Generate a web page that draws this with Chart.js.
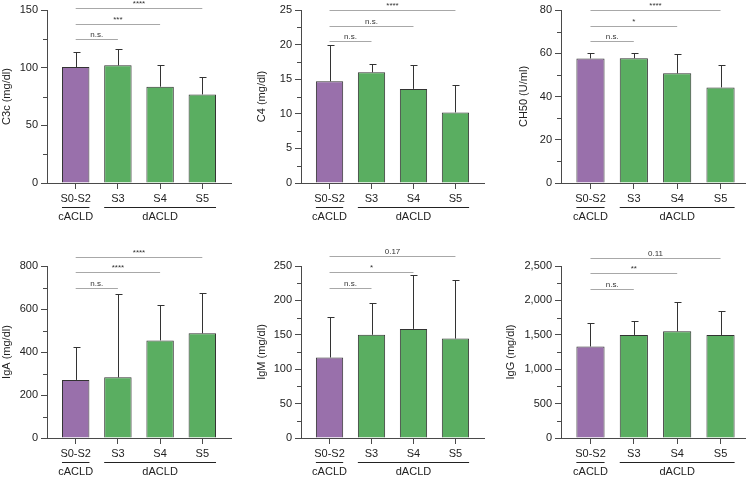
<!DOCTYPE html>
<html>
<head>
<meta charset="utf-8">
<script src="https://cdn.jsdelivr.net/npm/chart.js@4.4.1/dist/chart.umd.min.js"></script>
<style>
  html, body { margin: 0; padding: 0; background: #fff; overflow: hidden; width: 746px; height: 478px; }
  canvas { position: absolute; }
</style>
</head>
<body>
<script>
// categories
const stages = ['S0-S2', 'S3', 'S4', 'S5'];
const groups = ['cACLD', 'dACLD'];

// means and upper SD per panel
const c3cMean = [100.5, 102, 83.5, 76.8];
const c3cUpper = [114, 116, 102.2, 91.5];
const c4Mean = [14.7, 16.0, 13.6, 10.2];
const c4Upper = [19.9, 17.2, 17.0, 14.2];
const ch50Mean = [57.6, 57.7, 50.7, 44.2];
const ch50Upper = [59.9, 59.9, 59.8, 54.4];
const igaMean = [270, 282, 454, 487];
const igaUpper = [425, 670, 619, 676];
const igmMean = [117, 150, 158.6, 144.5];
const igmUpper = [175.6, 196.5, 237.5, 230];
const iggMean = [1330, 1498, 1551, 1498];
const iggUpper = [1672, 1705, 1975, 1848];

// significance labels (S0-S2 vs S3, S4, S5) and bracket heights in data units
const c3cSig = ['n.s.', '***', '****'];
const c3cSigLevel = [124.5, 137.6, 151.5];
const c4Sig = ['n.s.', 'n.s.', '****'];
const c4SigLevel = [20.55, 22.7, 25.0];
const ch50Sig = ['n.s.', '*', '****'];
const ch50SigLevel = [65.7, 72.6, 80.0];
const igaSig = ['n.s.', '****', '****'];
const igaSigLevel = [696, 770, 842];
const igmSig = ['n.s.', '*', '0.17'];
const igmSigLevel = [218, 241.8, 264];
const iggSig = ['n.s.', '**', '0.11'];
const iggSigLevel = [2163, 2394, 2616];

const PURPLE = '#9970ab';
const GREEN = '#5aae61';
const AXIS = '#4a4a4a';
const FONT = "'Liberation Sans', Arial, sans-serif";

const panels = [
  { title: 'C3c (mg/dl)', mean: c3cMean, upper: c3cUpper, sig: c3cSig, sigLevel: c3cSigLevel, max: 150, step: 50,
    left: 0, top: 0, w: 240, h: 240, yw: 47, plotRight: 231, padTop: 10, xh: 57 },
  { title: 'C4 (mg/dl)', mean: c4Mean, upper: c4Upper, sig: c4Sig, sigLevel: c4SigLevel, max: 25, step: 5,
    left: 255, top: 0, w: 240, h: 240, yw: 46, plotRight: 484, padTop: 10, xh: 57 },
  { title: 'CH50 (U/ml)', mean: ch50Mean, upper: ch50Upper, sig: ch50Sig, sigLevel: ch50SigLevel, max: 80, step: 20,
    left: 517, top: 0, w: 240, h: 240, yw: 44, plotRight: 750, padTop: 10, xh: 57 },
  { title: 'IgA (mg/dl)', mean: igaMean, upper: igaUpper, sig: igaSig, sigLevel: igaSigLevel, max: 800, step: 200,
    left: 0, top: 240, w: 240, h: 238, yw: 47, plotRight: 231, padTop: 26, xh: 40 },
  { title: 'IgM (mg/dl)', mean: igmMean, upper: igmUpper, sig: igmSig, sigLevel: igmSigLevel, max: 250, step: 50,
    left: 255, top: 240, w: 240, h: 238, yw: 46, plotRight: 484, padTop: 26, xh: 40 },
  { title: 'IgG (mg/dl)', mean: iggMean, upper: iggUpper, sig: iggSig, sigLevel: iggSigLevel, max: 2500, step: 500,
    left: 504, top: 240, w: 252, h: 238, yw: 57, plotRight: 750, padTop: 26, xh: 40 }
];

function px(v) { return Math.round(v) + 0.5; }

function makePanel(p) {
  const cv = document.createElement('canvas');
  cv.width = p.w; cv.height = p.h;
  cv.style.left = p.left + 'px'; cv.style.top = p.top + 'px';
  cv.style.width = p.w + 'px'; cv.style.height = p.h + 'px';
  document.body.appendChild(cv);

  // error bars, minor ticks, brackets and group labels
  const extras = {
    id: 'extras',
    afterDatasetsDraw(chart) {
      const ctx = chart.ctx;
      const ys = chart.scales.y;
      const bars = chart.getDatasetMeta(0).data;
      const area = chart.chartArea;
      ctx.save();
      ctx.lineWidth = 1;

      // minor y ticks
      ctx.strokeStyle = AXIS;
      ctx.beginPath();
      for (let v = p.step / 2; v < p.max; v += p.step) {
        const y = px(ys.getPixelForValue(v));
        ctx.moveTo(area.left - 4, y); ctx.lineTo(area.left, y);
      }
      ctx.stroke();

      // upper error bars
      ctx.strokeStyle = '#333';
      bars.forEach((b, i) => {
        const x = px(b.x);
        const yTop = ys.getPixelForValue(p.mean[i]);
        const yErr = px(ys.getPixelForValue(p.upper[i]));
        ctx.beginPath();
        ctx.moveTo(x, yTop); ctx.lineTo(x, yErr);
        ctx.moveTo(x - 3, yErr); ctx.lineTo(x + 4, yErr);
        ctx.stroke();
      });

      // significance brackets
      ctx.strokeStyle = '#a8a8a8';
      ctx.fillStyle = '#333';
      ctx.font = '8px ' + FONT;
      ctx.textAlign = 'center';
      ctx.textBaseline = 'middle';
      p.sig.forEach((s, k) => {
        const y = px(ys.getPixelForValue(p.sigLevel[k]));
        const x0 = bars[0].x, x1 = bars[k + 1].x;
        ctx.beginPath(); ctx.moveTo(x0, y); ctx.lineTo(x1, y); ctx.stroke();
        ctx.fillText(s, (x0 + x1) / 2, y - 5);
      });

      // group lines and labels
      const half = bars[0].width / 2;
      const gy = px(area.bottom + 23.5);
      ctx.strokeStyle = '#222';
      ctx.fillStyle = '#222';
      ctx.font = '11px ' + FONT;
      const spans = [[bars[0].x - half, bars[0].x + half], [bars[1].x - half, bars[3].x + half]];
      spans.forEach((sp, g) => {
        ctx.beginPath(); ctx.moveTo(sp[0], gy); ctx.lineTo(sp[1], gy); ctx.stroke();
        ctx.fillText(groups[g], (sp[0] + sp[1]) / 2, area.bottom + 33.5);
      });
      ctx.restore();
    }
  };

  new Chart(cv, {
    type: 'bar',
    data: {
      datasets: [{
        data: p.mean.map((v, i) => ({ x: i, y: v })),
        backgroundColor: p.mean.map((v, i) => i === 0 ? PURPLE : GREEN),
        borderColor: '#333',
        borderWidth: 1,
        barPercentage: 0.65,
        categoryPercentage: 1
      }]
    },
    options: {
      responsive: false,
      animation: false,
      events: [],
      layout: { padding: { top: p.padTop, right: p.w - (p.plotRight - p.left), left: 0, bottom: 0 } },
      plugins: { legend: { display: false }, tooltip: { enabled: false } },
      scales: {
        x: {
          type: 'linear',
          min: -0.68,
          max: 3.68,
          offset: false,
          afterBuildTicks: s => { s.ticks = stages.map((c, i) => ({ value: i })); },
          afterFit: s => { s.height = p.xh; },
          ticks: {
            callback: v => stages[v],
            autoSkip: false,
            maxRotation: 0,
            padding: 3,
            color: '#222',
            font: { family: FONT, size: 11 }
          },
          grid: { drawOnChartArea: false, offset: false, tickLength: 6, color: AXIS },
          border: { color: AXIS, width: 1 }
        },
        y: {
          min: 0,
          max: p.max,
          afterFit: s => { s.width = p.yw; },
          ticks: {
            stepSize: p.step,
            padding: 3,
            color: '#222',
            font: { family: FONT, size: 11 },
            callback: v => v.toLocaleString('en-US')
          },
          grid: { drawOnChartArea: false, tickLength: 6, color: AXIS },
          border: { color: AXIS, width: 1 },
          title: {
            display: true,
            text: p.title,
            color: '#222',
            font: { family: FONT, size: 11 },
            padding: { top: 0, bottom: 0 }
          }
        }
      }
    },
    plugins: [extras]
  });
}

panels.forEach(makePanel);
</script>
</body>
</html>
